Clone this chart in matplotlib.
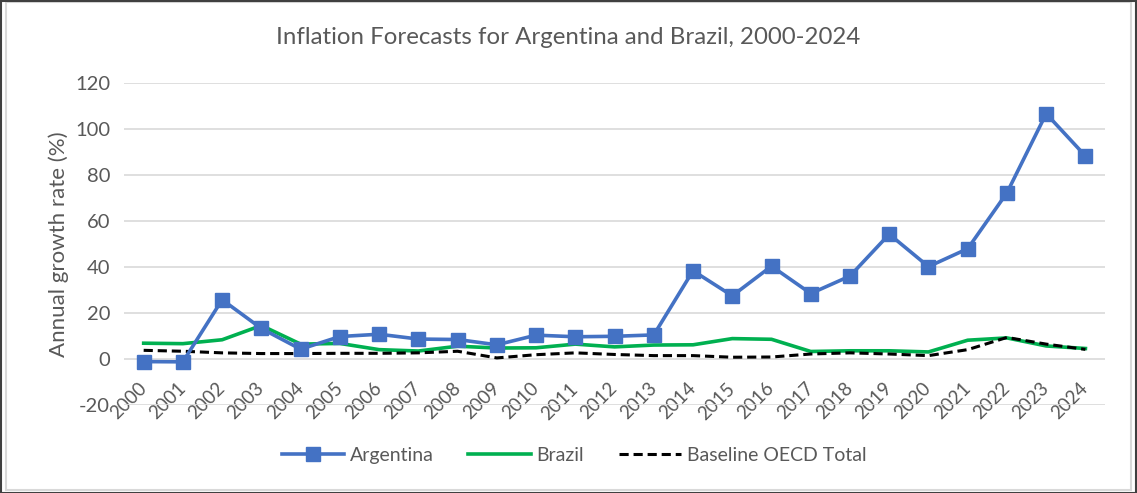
import numpy as np
import matplotlib.pyplot as plt
from matplotlib.patches import Rectangle

plt.rcParams['font.family'] = ['Lato', 'DejaVu Sans']
plt.rcParams['axes.unicode_minus'] = False

years = [str(y) for y in range(2000, 2025)]
argentina = [-1.0, -1.1, 25.9, 13.4, 4.4, 9.9, 10.9, 8.8, 8.6, 6.3, 10.5, 9.8,
             10.0, 10.6, 38.5, 27.6, 40.5, 28.6, 36.2, 54.4, 40.3, 48.1, 72.4,
             106.8, 88.4]
brazil = [7.0, 6.8, 8.5, 14.7, 6.6, 6.9, 4.2, 3.6, 5.7, 4.9, 5.0, 6.6,
          5.4, 6.2, 6.3, 9.0, 8.7, 3.4, 3.7, 3.7, 3.2, 8.3, 9.3, 5.8, 4.7]
oecd_total = [3.9, 3.5, 2.8, 2.5, 2.5, 2.6, 2.6, 2.8, 3.5, 0.6, 2.0, 2.8,
              2.1, 1.6, 1.6, 0.9, 1.0, 2.3, 2.8, 2.3, 1.6, 4.2, 9.5, 6.6, 4.3]
y_ticks = [-20, 0, 20, 40, 60, 80, 100, 120]

text_grey = '#595959'
x = np.arange(len(years))

fig = plt.figure(figsize=(11.37, 4.93), dpi=100)
ax = fig.add_axes([0.1091, 0.1779, 0.8628, 0.6531])

ax.plot(x, argentina, color='#4472C4', linewidth=2.6, marker='s',
        markersize=9.5, label='Argentina', zorder=3)
ax.plot(x, brazil, color='#00B050', linewidth=2.6, label='Brazil', zorder=2)
ax.plot(x, oecd_total, color='black', linewidth=2.2, dashes=(3, 1.6),
        label='Baseline OECD Total', zorder=2)

ax.set_xlim(-0.5, len(years) - 0.5)
ax.set_ylim(-20, 120)

# category axis sits on the zero line (set before styling the ticks,
# moving the spine rebuilds them)
ax.spines['bottom'].set_position(('data', 0))
for side in ['top', 'right', 'left', 'bottom']:
    ax.spines[side].set_visible(False)

ax.set_yticks(y_ticks)
ax.set_xticks(x)
ax.set_xticklabels(years)
ax.grid(axis='y', color='#D9D9D9', linewidth=1.2)
ax.set_axisbelow(True)
ax.tick_params(axis='both', length=0, colors=text_grey)
ax.tick_params(axis='y', labelsize=14.5, pad=10)
ax.tick_params(axis='x', labelsize=13.5, pad=19)
for lbl in ax.get_xticklabels():
    lbl.set_rotation(45)
    lbl.set_ha('right')
    lbl.set_va('center')
    lbl.set_rotation_mode('anchor')

ax.set_ylabel('Annual growth rate (%)', fontsize=16, color=text_grey,
              labelpad=4)
fig.suptitle('Inflation Forecasts for Argentina and Brazil, 2000-2024',
             x=0.5, y=0.945, fontsize=17.3, color=text_grey)

ax.legend(loc='center', bbox_to_anchor=(0.505, 0.077),
          bbox_transform=fig.transFigure, ncol=3, frameon=False,
          fontsize=14, labelcolor=text_grey, handlelength=3.2,
          handletextpad=0.3, columnspacing=1.8)

# chart frame
fig.patches.append(Rectangle((0.005, 0.006), 0.99, 0.99, transform=fig.transFigure,
                             fill=False, edgecolor='#D9D9D9', linewidth=1.5))
fig.patches.append(Rectangle((0.001, 0.0), 0.998, 0.998, transform=fig.transFigure,
                             fill=False, edgecolor='#404040', linewidth=1.5))

fig.savefig('out.png', dpi=100)
